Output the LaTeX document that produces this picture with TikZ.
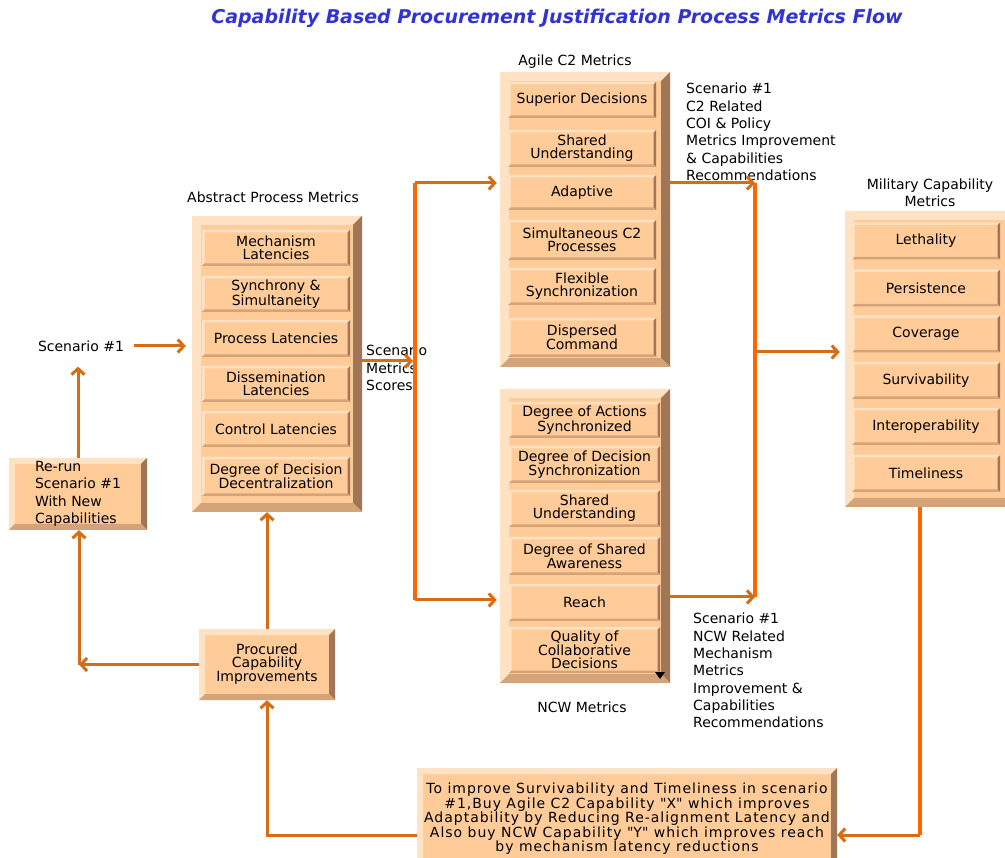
\documentclass[tikz,border=0pt]{standalone}
\usepackage{fontspec}
\setmainfont{DejaVu Sans}
\newfontfamily\headfont{DejaVu Sans}
\usetikzlibrary{arrows.meta}
\definecolor{boxface}{RGB}{255,204,153}
\definecolor{bevlight}{RGB}{255,226,196}
\definecolor{bevshade}{RGB}{212,164,120}
\definecolor{bevdark}{RGB}{160,118,86}
\definecolor{flowline}{RGB}{214,108,20}
\definecolor{busline}{RGB}{255,102,0}
\definecolor{headblue}{RGB}{51,51,210}

\newcommand\cellfont{\fontsize{14}{13}\selectfont}
\newcommand\notefont{\fontsize{14}{17.3}\selectfont}

\tikzset{
  raised/.style={fill=boxface, path picture={
      \path (path picture bounding box.north west) coordinate (q1)
            (path picture bounding box.north east) coordinate (q2)
            (path picture bounding box.south east) coordinate (q3)
            (path picture bounding box.south west) coordinate (q4);
      \fill[bevlight] (q1) -- (q2) -- ([xshift=-#1pt,yshift=-#1pt]q2) -- ([xshift=#1pt,yshift=-#1pt]q1) -- cycle;
      \fill[bevlight] (q1) -- ([xshift=#1pt,yshift=-#1pt]q1) -- ([xshift=#1pt,yshift=#1pt]q4) -- (q4) -- cycle;
      \fill[bevdark] (q2) -- (q3) -- ([xshift=-#1pt,yshift=#1pt]q3) -- ([xshift=-#1pt,yshift=-#1pt]q2) -- cycle;
      \fill[bevshade] (q4) -- (q3) -- ([xshift=-#1pt,yshift=#1pt]q3) -- ([xshift=#1pt,yshift=#1pt]q4) -- cycle;
  }},
  panel/.style={raised=9, minimum width=170pt, minimum height=#1pt, inner sep=0pt},
  cell/.style={raised=2.5, minimum width=148pt, minimum height=#1pt, inner sep=0pt,
    align=center, font=\cellfont},
  card/.style={raised=6, inner sep=0pt, font=\cellfont},
  lbl/.style={font=\cellfont, inner sep=1pt, align=center},
  note/.style={font=\notefont, inner sep=0pt, align=left, anchor=north west},
  flow/.style={draw=flowline, line width=3pt,
    -{Straight Barb[length=6pt,width=13pt]}},
  bus/.style={draw=busline, line width=4pt},
}

\begin{document}
\begin{tikzpicture}[x=1pt,y=-1pt]
  \clip (0,0) rectangle (1005,858);
  \fill[white] (0,0) rectangle (1005,858);

  \node[font=\headfont\bfseries\itshape\fontsize{19}{19}\selectfont, text=headblue]
    (title) at (557,18) {Capability Based Procurement Justification Process Metrics Flow};

  % metric panels
  \node[panel=296] (apm) at (277,364) {};
  \node[panel=295] (agile) at (585,219.5) {};
  \node[panel=294] (ncw) at (585,536) {};
  \node[panel=296] (mil) at (930,359) {};

  \node[lbl] (apm-title) at (273,197) {Abstract Process Metrics};
  \node[lbl] (agile-title) at (575,62) {Agile C2 Metrics};
  \node[lbl] (ncw-title) at (582,707) {NCW Metrics};
  \node[lbl, font=\fontsize{14}{17}\selectfont] (mil-title) at (930,192.5)
    {Military Capability\\Metrics};

  \foreach \y/\h/\txt [count=\i] in {248/36/{Mechanism\\Latencies},
      294/36/{Synchrony \&\\Simultaneity}, 338.5/37/{Process Latencies},
      384/36/{Dissemination\\Latencies}, 429/36/{Control Latencies},
      476.5/39/{Degree of Decision\\Decentralization}}
    \node[cell=\h] (apm-\i) at (276,\y) {\txt};

  \foreach \y/\h/\txt [count=\i] in {100/36/{Superior Decisions},
      148.5/37/{Shared\\Understanding}, 192.5/35/{Adaptive},
      240/40/{Simultaneous C2\\Processes}, 286.5/37/{Flexible\\Synchronization},
      337.5/39/{Dispersed\\Command}}
    \node[cell=\h] (agile-\i) at (582,\y) {\txt};

  \foreach \y/\h/\txt [count=\i] in {420/36/{Degree of Actions\\Synchronized},
      464.5/37/{Degree of Decision\\Synchronization}, 508.5/37/{Shared\\Understanding},
      556/38/{Degree of Shared\\Awareness}, 602.5/37/{Reach},
      650/46/{Quality of\\Collaborative\\Decisions}}
    \node[cell=\h, minimum width=151pt] (ncw-\i) at (584.5,\y) {\txt};
  \fill (655,672) -- (665,672) -- (660,679) -- cycle;

  \foreach \y/\txt [count=\i] in {241/Lethality, 288/Persistence, 334/Coverage,
      380.5/Survivability, 426.5/Interoperability, 473.5/Timeliness}
    \node[cell=37] (mil-\i) at (926,\y) {\txt};

  % loop back boxes
  \node[card, minimum width=138pt, minimum height=72pt, align=left,
    font=\fontsize{14}{17.5}\selectfont] (rerun) at (78,494)
    {Re-run\\Scenario \#1\\With New\\Capabilities};
  \node[card, minimum width=136pt, minimum height=71pt, align=center] (procured)
    at (267,664.5) {Procured\\Capability\\Improvements};
  \node[card, minimum width=420pt, minimum height=102pt, align=center,
    font=\fontsize{14}{14.5}\selectfont\addfontfeature{LetterSpace=7}] (action) at (627,819)
    {To improve Survivability and Timeliness in scenario\\
     \#1,Buy Agile C2 Capability \textquotedbl X\textquotedbl\ which improves\\
     Adaptability by Reducing Re-alignment Latency and\\
     Also buy NCW Capability \textquotedbl Y\textquotedbl\ which improves reach\\
     by mechanism latency reductions};

  % free labels
  \node[lbl] (scen) at (81,346) {Scenario \#1};
  \node[note] (scores) at (366,345) {Scenario\\Metrics\\Scores};
  \node[note] (c2-rec) at (686,83) {Scenario \#1\\C2 Related\\COI \& Policy\\
    Metrics Improvement\\\& Capabilities\\Recommendations};
  \node[note] (ncw-rec) at (693,613) {Scenario \#1\\NCW Related\\Mechanism\\
    Metrics\\Improvement \&\\Capabilities\\Recommendations};

  % bus lines
  \coordinate (busL-top) at (415,183);
  \coordinate (busL-mid) at (415,361);
  \coordinate (busL-bot) at (415,600);
  \coordinate (busR-top) at (755,183);
  \coordinate (busR-mid) at (755,352);
  \coordinate (busR-bot) at (755,597);
  \coordinate (ret-right) at (920,835);
  \coordinate (ret-left) at (267,835);
  \coordinate (ret-rerun) at (79,664.5);

  \draw[bus] (busL-top) -- (busL-bot);
  \draw[bus] (busR-top) -- (busR-bot);
  \draw[bus] (mil.south -| ret-right) -- (ret-right);

  % flows
  \draw[flow, shorten <=9pt, shorten >=6pt] (scen.east) -- (scen.east -| apm.west);
  \draw[flow, shorten >=14pt] (rerun.north) -- (rerun.north |- scen.south);
  \draw[flow] (procured.west) -- (ret-rerun);
  \draw[flow] (ret-rerun) -- (ret-rerun |- rerun.south);
  \draw[flow] (procured.north) -- (procured.north |- apm.south);
  \draw[flow] (action.west |- ret-left) -- (ret-left) -- (ret-left |- procured.south);
  \draw[flow] (ret-right) -- (action.east |- ret-right);
  \draw[flow, shorten >=2pt] (apm.east |- busL-mid) -- (busL-mid);
  \draw[flow, shorten >=3pt] (busL-top) -- (busL-top -| agile.west);
  \draw[flow, shorten >=3pt] (busL-bot) -- (busL-bot -| ncw.west);
  \draw[flow] (busR-top -| agile.east) -- (busR-top);
  \draw[flow] (busR-bot -| ncw.east) -- (busR-bot);
  \draw[flow, shorten >=5pt] (busR-mid) -- (busR-mid -| mil.west);
\end{tikzpicture}
\end{document}
